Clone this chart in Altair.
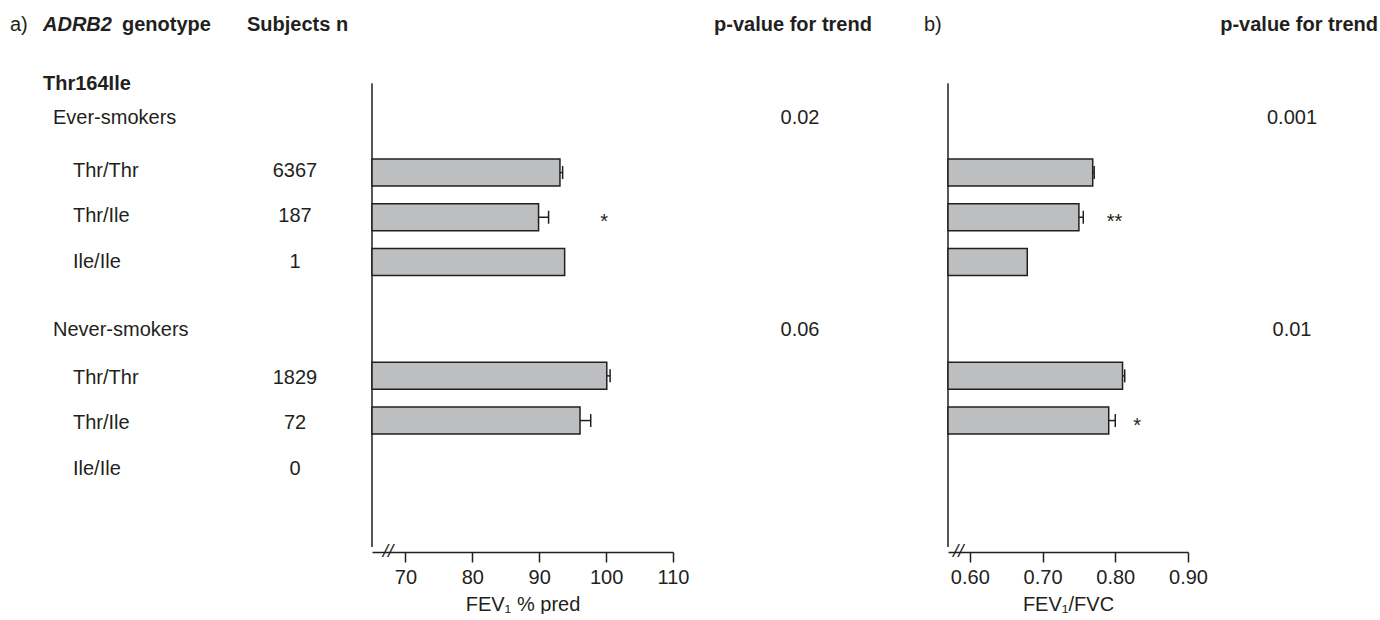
import altair as alt
import pandas as pd

# ---------------- data ----------------
header_row = 0.0
variant_row = 1.3
axis_top_row = 1.2
axis_bottom_row = 11.58
row_domain = [-0.55, 11.58]

group_names = ["Ever-smokers", "Never-smokers"]
group_rows = [2.05, 6.7]

genotypes = ["Thr/Thr", "Thr/Ile", "Ile/Ile", "Thr/Thr", "Thr/Ile", "Ile/Ile"]
geno_rows = [3.2, 4.2, 5.2, 7.75, 8.75, 9.75]
subjects_n = ["6367", "187", "1", "1829", "72", "0"]

fev1_pct = [93.1, 89.9, 93.8, 100.1, 96.1, None]
fev1_pct_hi = [93.5, 91.4, None, 100.6, 97.7, None]
fev1_fvc = [0.769, 0.750, 0.679, 0.810, 0.791, None]
fev1_fvc_hi = [0.771, 0.756, None, 0.813, 0.800, None]

stars_a = ["", "*", "", "", "", ""]
stars_a_x = [None, 99.7, None, None, None, None]
stars_b = ["", "**", "", "", "*", ""]
stars_b_x = [None, 0.799, None, None, 0.830, None]

p_trend_a = ["0.02", "0.06"]
p_trend_b = ["0.001", "0.01"]

xa_domain = [65, 110]
xa_ticks = [70, 80, 90, 100, 110]
xb_domain = [0.57, 0.90]
xb_ticks = [0.60, 0.70, 0.80, 0.90]

# ---------------- style ----------------
FONT = "Liberation Sans"
FS = 20
INK = "#231f20"
BAR = "#bcbec0"
H = 552

yscale = alt.Scale(domain=row_domain, reverse=True, nice=False, zero=False)


def Y(field="row"):
    return alt.Y(f"{field}:Q", scale=yscale, axis=None)


def text_layer(texts, rows, x, align="left", weight="normal", style="normal", size=FS):
    df = pd.DataFrame({"t": texts, "row": rows})
    return alt.Chart(df).mark_text(
        align=align, baseline="middle", font=FONT, fontSize=size,
        fontWeight=weight, fontStyle=style, color=INK, x=x
    ).encode(y=Y(), text="t:N")


# ---------------- column 1: labels ----------------
c1 = alt.layer(
    text_layer(["a)"], [header_row], 10),
    text_layer(["ADRB2"], [header_row], 43, weight="bold", style="italic"),
    text_layer(["genotype"], [header_row], 122, weight="bold"),
    text_layer(["Subjects n"], [header_row], 247, weight="bold"),
    text_layer(["Thr164Ile"], [variant_row], 43, weight="bold"),
    text_layer(group_names, group_rows, 53),
    text_layer(genotypes, geno_rows, 73),
    text_layer(subjects_n, geno_rows, 295, align="center"),
).properties(width=372, height=H)


def bar_panel(values, his, star_txt, star_x, domain, ticks, fmt, title, brk_x, width):
    xs = alt.Scale(domain=domain, nice=False, zero=False)
    ax = alt.Axis(values=ticks, format=fmt, title=title, grid=False, labelFlush=False,
                  labelFontSize=FS, titleFontSize=FS, labelFont=FONT, titleFont=FONT,
                  titleFontWeight="normal", labelColor=INK, titleColor=INK,
                  tickColor=INK, domainColor=INK, tickSize=10, tickWidth=1.5,
                  domainWidth=1.5, labelPadding=5, titlePadding=7)

    def X(field):
        return alt.X(f"{field}:Q", scale=xs, axis=ax)

    df = pd.DataFrame({"row": geno_rows, "v": values, "hi": his,
                       "star": star_txt, "sx": star_x})
    bars_df = df.dropna(subset=["v"])
    err_df = df.dropna(subset=["hi"])
    star_df = df.dropna(subset=["sx"])

    vline = alt.Chart(pd.DataFrame({"top": [axis_top_row], "bottom": [axis_bottom_row]})).mark_rule(
        color=INK, strokeWidth=1.5
    ).encode(x=alt.value(0), y=Y("top"), y2="bottom:Q")

    bars = alt.Chart(bars_df).mark_bar(
        height=27, fill=BAR, stroke=INK, strokeWidth=1.5, orient="horizontal"
    ).encode(x=X("v"), x2=alt.datum(domain[0]), y=Y())

    err = alt.Chart(err_df).mark_rule(color=INK, strokeWidth=1.5).encode(
        x=X("v"), x2="hi:Q", y=Y())
    cap = alt.Chart(err_df).mark_tick(
        orient="vertical", size=13, thickness=1.5, color=INK, opacity=1
    ).encode(x=X("hi"), y=Y())

    stars = alt.Chart(star_df).mark_text(
        align="center", baseline="middle", font=FONT, fontSize=FS, color=INK, dy=5
    ).encode(x=X("sx"), y=Y(), text="star:N")

    brk = alt.Chart(pd.DataFrame({"bx": [brk_x], "row": [axis_bottom_row], "t": ["//"]})).mark_text(
        align="center", baseline="middle", font=FONT, fontSize=19, fontStyle="italic",
        color=INK, dy=4
    ).encode(x=X("bx"), y=Y(), text="t:N")

    return alt.layer(vline, bars, err, cap, stars, brk).properties(width=width, height=H)


c2 = bar_panel(fev1_pct, fev1_pct_hi, stars_a, stars_a_x, xa_domain, xa_ticks, "d",
               "FEV₁ % pred", 67.4, 301)

c3 = alt.layer(
    text_layer(["p-value for trend"], [header_row], 120, align="center", weight="bold"),
    text_layer(p_trend_a, group_rows, 127, align="center"),
    text_layer(["b)"], [header_row], 251),
).properties(width=275, height=H)

c4 = bar_panel(fev1_fvc, fev1_fvc_hi, stars_b, stars_b_x, xb_domain, xb_ticks, ".2f",
               "FEV₁/FVC", 0.584, 240)

c5 = alt.layer(
    text_layer(["p-value for trend"], [header_row], 190, align="right", weight="bold"),
    text_layer(p_trend_b, group_rows, 104, align="center"),
).properties(width=192, height=H)

chart = alt.hconcat(c1, c2, c3, c4, c5, spacing=0, bounds="flush").properties(
    padding=0
).configure(background="white").configure_view(strokeWidth=0, stroke="transparent")

chart.save("out.html", embed_options={"renderer": "svg", "actions": False})
